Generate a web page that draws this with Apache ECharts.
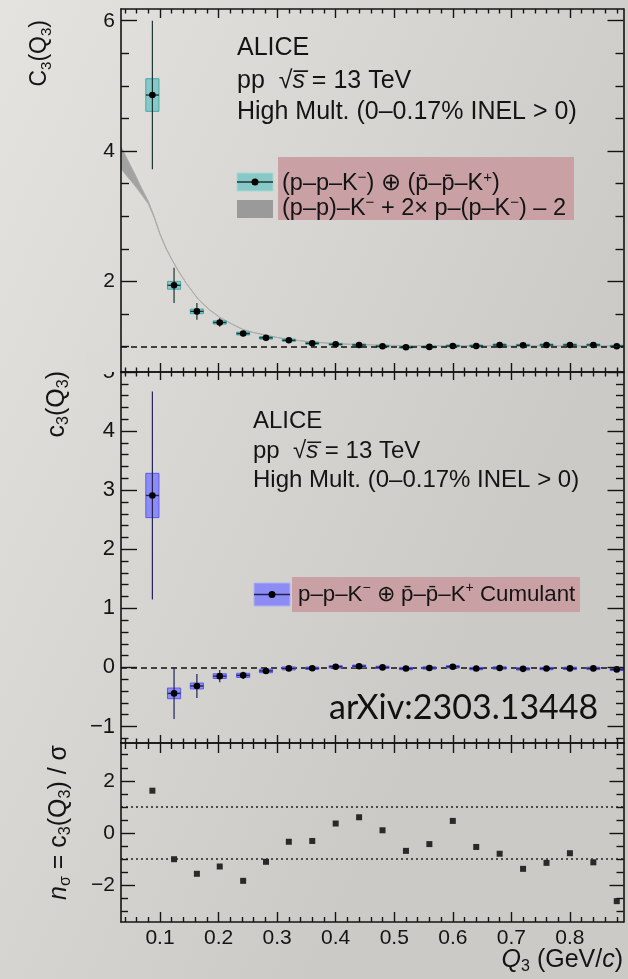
<!DOCTYPE html>
<html><head><meta charset="utf-8">
<script src="https://cdn.jsdelivr.net/npm/echarts/dist/echarts.min.js"></script>
<style>html,body{margin:0;padding:0;background:#d8d6d2;} #chart{width:628px;height:979px;}</style>
</head><body><div id="chart"></div><script>
// ---------------- data ----------------
const qVals   = [0.087, 0.124, 0.163, 0.202, 0.242, 0.281, 0.320, 0.360, 0.400, 0.440, 0.480, 0.520, 0.560, 0.600, 0.640, 0.680, 0.720, 0.760, 0.800, 0.840, 0.880];
// C3(Q3): (p-p-K-) + (pbar-pbar-K+)
const c3Val   = [4.86, 1.94, 1.54, 1.37, 1.20, 1.134, 1.097, 1.05, 1.035, 1.025, 1.005, 0.99, 0.995, 1.01, 1.01, 1.025, 1.02, 1.025, 1.025, 1.025, 1.005];
const c3Stat  = [1.14, 0.27, 0.13, 0.065, 0.04, 0.03, 0.022, 0.018, 0.015, 0.013, 0.012, 0.012, 0.012, 0.012, 0.012, 0.012, 0.012, 0.012, 0.012, 0.012, 0.012];
const c3Sys   = [0.25, 0.06, 0.035, 0.025, 0.022, 0.02, 0.018, 0.016, 0.015, 0.015, 0.015, 0.015, 0.015, 0.015, 0.015, 0.015, 0.015, 0.015, 0.015, 0.015, 0.015];
// lower-order contributions band: (p-p)-K- + 2x p-(p-K-) - 2
const bandQ    = [0.0334, 0.045, 0.057, 0.068, 0.080, 0.090, 0.100, 0.110, 0.120, 0.130, 0.145, 0.165, 0.185, 0.202, 0.222, 0.242, 0.260, 0.281, 0.300, 0.320, 0.340, 0.360, 0.400, 0.440, 0.480, 0.520, 0.600, 0.700, 0.800, 0.8915];
const bandLow  = [3.73, 3.60, 3.47, 3.34, 3.19, 2.98, 2.72, 2.51, 2.34, 2.18, 1.97, 1.73, 1.56, 1.45, 1.35, 1.26, 1.215, 1.175, 1.14, 1.11, 1.09, 1.07, 1.045, 1.03, 1.02, 1.015, 1.012, 1.012, 1.012, 1.012];
const bandHigh = [4.07, 3.86, 3.65, 3.44, 3.23, 3.00, 2.73, 2.515, 2.34, 2.18, 1.97, 1.73, 1.56, 1.45, 1.35, 1.26, 1.215, 1.175, 1.14, 1.11, 1.09, 1.07, 1.045, 1.03, 1.02, 1.015, 1.012, 1.012, 1.012, 1.012];
// c3(Q3) cumulant
const cumVal  = [2.91, -0.44, -0.315, -0.148, -0.135, -0.06, -0.017, -0.015, 0.01, 0.02, 0.0, -0.02, -0.01, 0.01, -0.02, -0.01, -0.025, -0.02, -0.017, -0.017, -0.034];
const cumStat = [1.76, 0.435, 0.205, 0.105, 0.06, 0.04, 0.03, 0.025, 0.02, 0.02, 0.02, 0.02, 0.02, 0.02, 0.02, 0.02, 0.02, 0.02, 0.02, 0.02, 0.02];
const cumSys  = [0.375, 0.09, 0.05, 0.04, 0.035, 0.03, 0.025, 0.02, 0.02, 0.02, 0.02, 0.02, 0.02, 0.02, 0.02, 0.02, 0.02, 0.02, 0.02, 0.02, 0.02];
// n_sigma = c3 / sigma
const nSigma  = [1.62, -1.01, -1.57, -1.29, -1.84, -1.11, -0.34, -0.31, 0.36, 0.60, 0.10, -0.69, -0.43, 0.46, -0.54, -0.80, -1.38, -1.15, -0.78, -1.13, -2.62];

// ticks / labels
const xMajorTicks = [0.1, 0.2, 0.3, 0.4, 0.5, 0.6, 0.7, 0.8];
const xMinorTicks = [0.04, 0.06, 0.08, 0.12, 0.14, 0.16, 0.18, 0.22, 0.24, 0.26, 0.28, 0.32, 0.34, 0.36, 0.38, 0.42, 0.44, 0.46, 0.48, 0.52, 0.54, 0.56, 0.58, 0.62, 0.64, 0.66, 0.68, 0.72, 0.74, 0.76, 0.78, 0.82, 0.84, 0.86, 0.88];
const topYMajor = [2, 4, 6];
const topYMinor = [1, 1.5, 2.5, 3, 3.5, 4.5, 5, 5.5];
const midYMajor = [-1, 0, 1, 2, 3, 4, 5];
const midYMinor = [-1.2, -0.8, -0.6, -0.4, -0.2, 0.2, 0.4, 0.6, 0.8, 1.2, 1.4, 1.6, 1.8, 2.2, 2.4, 2.6, 2.8, 3.2, 3.4, 3.6, 3.8, 4.2, 4.4, 4.6, 4.8];
const botYMajor = [-2, 0, 2];
const botYMinor = [-3, -2.5, -1.5, -1, -0.5, 0.5, 1, 1.5, 2.5, 3];

// ---------------- styling ----------------
const X_MIN = 0.0334, X_MAX = 0.8915;
const BOX_HALF = 0.0112;
const FONT = "'Liberation Sans', Arial, Helvetica, sans-serif";
const INK = '#141414';
const FRAME_W = 1.6, TICK_W = 1.4;

function fmtMinus(v) { return v < 0 ? '\u2212' + (-v) : String(v); }

function xAxisSet(g, o) {
  const base = { type: 'value', gridIndex: g, min: X_MIN, max: X_MAX, splitLine: { show: false }, z: 5 };
  const line = { show: true, onZero: false, lineStyle: { color: INK, width: FRAME_W } };
  const tick = (len, vals) => ({ show: true, inside: true, length: len, customValues: vals, lineStyle: { color: INK, width: TICK_W } });
  return [
    Object.assign({}, base, { position: 'bottom', axisLine: line, axisTick: tick(o.bMaj, xMajorTicks),
      axisLabel: o.labels ? { show: true, customValues: xMajorTicks, margin: 6, fontSize: 21, fontFamily: FONT, color: INK } : { show: false } }),
    Object.assign({}, base, { position: 'bottom', axisLine: { show: false, onZero: false }, axisTick: tick(o.bMin, xMinorTicks), axisLabel: { show: false } }),
    Object.assign({}, base, { position: 'top', axisLine: line, axisTick: tick(o.tMaj, xMajorTicks), axisLabel: { show: false } }),
    Object.assign({}, base, { position: 'top', axisLine: { show: false, onZero: false }, axisTick: tick(o.tMin, xMinorTicks), axisLabel: { show: false } })
  ];
}
function yAxisSet(g, o) {
  const base = { type: 'value', gridIndex: g, min: o.min, max: o.max, splitLine: { show: false }, z: 5 };
  const line = { show: true, onZero: false, lineStyle: { color: INK, width: FRAME_W } };
  const tick = (len, vals) => ({ show: true, inside: true, length: len, customValues: vals, lineStyle: { color: INK, width: TICK_W } });
  return [
    Object.assign({}, base, { position: 'left', axisLine: line, axisTick: tick(o.maj, o.major),
      axisLabel: { show: true, customValues: o.labels, margin: 6, fontSize: o.fs, fontFamily: FONT, color: INK, formatter: fmtMinus } }),
    Object.assign({}, base, { position: 'left', axisLine: { show: false, onZero: false }, axisTick: tick(o.mnr, o.minor), axisLabel: { show: false } }),
    Object.assign({}, base, { position: 'right', axisLine: line, axisTick: tick(o.maj, o.major), axisLabel: { show: false } }),
    Object.assign({}, base, { position: 'right', axisLine: { show: false, onZero: false }, axisTick: tick(o.mnr, o.minor), axisLabel: { show: false } })
  ];
}

function makeErrRender(st) {
  return function (params, api) {
    const x = api.value(0), y = api.value(1), es = api.value(2), ey = api.value(3);
    const c = api.coord([x, y]);
    const tl = api.coord([x - BOX_HALF, y + ey]);
    const br = api.coord([x + BOX_HALF, y - ey]);
    const eT = api.coord([x, y + es]);
    const eB = api.coord([x, y - es]);
    return { type: 'group', children: [
      { type: 'rect', shape: { x: tl[0], y: tl[1], width: br[0] - tl[0], height: br[1] - tl[1] }, style: { fill: st.fill, stroke: st.stroke, lineWidth: 1 } },
      { type: 'line', shape: { x1: eT[0], y1: eT[1], x2: eB[0], y2: eB[1] }, style: { stroke: st.bar, lineWidth: 1.2 } },
      { type: 'line', shape: { x1: tl[0], y1: c[1], x2: br[0], y2: c[1] }, style: { stroke: st.bar, lineWidth: 1.4 } },
      { type: 'circle', shape: { cx: c[0], cy: c[1], r: 3.3 }, style: { fill: '#000' } }
    ]};
  };
}

const TEAL = { fill: '#88c8c6', stroke: '#44a9a8', bar: '#1c3434' };
const BLUE = { fill: '#8c8cf4', stroke: '#5a5af0', bar: '#232358' };
const PINK = '#c9a1a5';

// rich text styles
function rich(F) {
  return {
    m: { fontSize: F, fontFamily: FONT, fill: INK, lineHeight: Math.round(F * 1.2) },
    i: { fontSize: F, fontFamily: FONT, fill: INK, fontStyle: 'italic', lineHeight: Math.round(F * 1.2) },
    sub: { fontSize: Math.round(F * 0.65), fontFamily: FONT, fill: INK, lineHeight: Math.round(F * 0.46), verticalAlign: 'bottom' },
    sup: { fontSize: Math.round(F * 0.62), fontFamily: FONT, fill: INK, lineHeight: Math.round(F * 0.62), verticalAlign: 'top' }
  };
}
function txt(x, y, text, F, extra) {
  return Object.assign({ type: 'text', x: x, y: y, z: 50,
    style: { text: text, rich: rich(F), fontSize: F, fontFamily: FONT, fill: INK, align: 'left', textAlign: 'left', verticalAlign: 'middle', textVerticalAlign: 'middle' } }, extra || {});
}
function vtxt(x, y, text, F) {
  return { type: 'text', x: x, y: y, rotation: Math.PI / 2, z: 50,
    style: { text: text, rich: rich(F), fontSize: F, fontFamily: FONT, fill: INK, align: 'right', textAlign: 'right', verticalAlign: 'middle', textVerticalAlign: 'middle' } };
}

const PB = 'p\u0304';
const graphics = [
  // cover for the clipped "5" label of the middle pad
  { type: 'rect', z: 40, shape: { x: 86, y: 352, width: 33, height: 20 }, style: { fill: '#dcdad6' } },
  // top pad texts
  txt(237, 48, '{m|ALICE}', 25),
  txt(237, 81, '{m|pp  \u221A}{i|s\u0305}{m| = 13 TeV}', 25),
  txt(237, 112, '{m|High Mult. (0\u20130.17% INEL > 0)}', 25),
  // top legend
  { type: 'rect', z: 20, shape: { x: 278, y: 157, width: 296, height: 63 }, style: { fill: PINK } },
  { type: 'rect', z: 20, shape: { x: 237, y: 173, width: 36, height: 18 }, style: { fill: TEAL.fill, stroke: '#a8d8d6', lineWidth: 1 } },
  { type: 'line', z: 21, shape: { x1: 237, y1: 182, x2: 273, y2: 182 }, style: { stroke: TEAL.bar, lineWidth: 1.5 } },
  { type: 'circle', z: 22, shape: { cx: 255, cy: 182, r: 3.5 }, style: { fill: '#000' } },
  { type: 'rect', z: 20, shape: { x: 237, y: 200, width: 36, height: 18 }, style: { fill: '#9a9a9a' } },
  txt(282, 184, '{m|(p\u2013p\u2013K}{sup|\u2212}{m|) \u2295 (' + PB + '\u2013' + PB + '\u2013K}{sup|+}{m|)}', 23.5),
  txt(282, 209, '{m|(p\u2013p)\u2013K}{sup|\u2212}{m| + 2\u00D7 p\u2013(p\u2013K}{sup|\u2212}{m|) \u2013 2}', 23.5),
  // middle pad texts
  txt(253, 421, '{m|ALICE}', 24),
  txt(253, 451, '{m|pp  \u221A}{i|s\u0305}{m| = 13 TeV}', 24),
  txt(253, 480, '{m|High Mult. (0\u20130.17% INEL > 0)}', 24),
  // middle legend
  { type: 'rect', z: 20, shape: { x: 292, y: 577, width: 288, height: 35 }, style: { fill: PINK } },
  { type: 'rect', z: 20, shape: { x: 254, y: 583, width: 36, height: 23 }, style: { fill: BLUE.fill, stroke: '#b0b0f8', lineWidth: 1 } },
  { type: 'line', z: 21, shape: { x1: 254, y1: 594.5, x2: 290, y2: 594.5 }, style: { stroke: BLUE.bar, lineWidth: 1.5 } },
  { type: 'circle', z: 22, shape: { cx: 272, cy: 594.5, r: 3.5 }, style: { fill: '#000' } },
  txt(298, 595, '{m|p\u2013p\u2013K}{sup|\u2212}{m| \u2295 ' + PB + '\u2013' + PB + '\u2013K}{sup|+}{m| Cumulant}', 22.3),
  // arXiv stamp
  { type: 'text', x: 329, y: 708, z: 50, style: { text: 'arXiv:2303.13448', fontSize: 34, fontFamily: "Lato, 'Open Sans', sans-serif", fill: '#111', align: 'left', textAlign: 'left', verticalAlign: 'middle', textVerticalAlign: 'middle' } },
  // axis titles
  vtxt(40, 20, '{m|C}{sub|3}{m|(Q}{sub|3}{m|)}', 23),
  vtxt(57, 371, '{m|c}{sub|3}{m|(Q}{sub|3}{m|)}', 25),
  vtxt(59, 745, '{i|n}{sub|\u03C3}{m| = c}{sub|3}{m|(Q}{sub|3}{m|) / \u03C3}', 25),
  { type: 'text', x: 623, y: 960, z: 50, style: { text: '{i|Q}{sub|3}{m| (GeV/}{i|c}{m|)}', rich: rich(25), fontSize: 25, fontFamily: FONT, fill: INK, align: 'right', textAlign: 'right', verticalAlign: 'middle', textVerticalAlign: 'middle' } }
];

const chart = echarts.init(document.getElementById('chart'), null, { renderer: 'canvas', width: 628, height: 979 });
const option = {
  animation: false,
  backgroundColor: { type: 'linear', x: 0, y: 0, x2: 1, y2: 0.3, colorStops: [{ offset: 0, color: '#e4e3df' }, { offset: 1, color: '#cccac6' }] },
  grid: [
    { left: 121, top: 9, width: 502.5, height: 363 },
    { left: 121, top: 372, width: 502.5, height: 371 },
    { left: 121, top: 743, width: 502.5, height: 179 }
  ],
  xAxis: [].concat(
    xAxisSet(0, { labels: false, bMaj: 9, bMin: 4.5, tMaj: 9, tMin: 4.5 }),
    xAxisSet(1, { labels: false, bMaj: 8, bMin: 4.5, tMaj: 8, tMin: 4.5 }),
    xAxisSet(2, { labels: true, bMaj: 10, bMin: 5, tMaj: 10, tMin: 6 })
  ),
  yAxis: [].concat(
    yAxisSet(0, { min: 0.61, max: 6.18, major: topYMajor, minor: topYMinor, labels: topYMajor, maj: 16, mnr: 8, fs: 21 }),
    yAxisSet(1, { min: -1.28, max: 5.0, major: midYMajor, minor: midYMinor, labels: midYMajor, maj: 16, mnr: 7.5, fs: 22 }),
    yAxisSet(2, { min: -3.42, max: 3.45, major: botYMajor, minor: botYMinor, labels: botYMajor, maj: 14, mnr: 7, fs: 21 })
  ),
  graphic: { elements: graphics },
  series: [
    {
      type: 'custom', name: 'band', xAxisIndex: 0, yAxisIndex: 0, z: 2, clip: true,
      data: bandQ.map((q, i) => [q, bandLow[i], bandHigh[i]]),
      encode: { x: 0, y: [1, 2] },
      renderItem: function (params, api) {
        if (params.dataIndex !== 0) return null;
        const pts = [];
        for (let i = 0; i < bandQ.length; i++) pts.push(api.coord([bandQ[i], bandHigh[i]]));
        for (let i = bandQ.length - 1; i >= 0; i--) pts.push(api.coord([bandQ[i], bandLow[i]]));
        return { type: 'polygon', shape: { points: pts }, style: { fill: '#a2a2a2', stroke: '#acacac', lineWidth: 1 } };
      },
      markLine: { silent: true, symbol: ['none', 'none'], label: { show: false }, animation: false,
        lineStyle: { color: '#111', type: [6, 4], width: 1.5 }, data: [{ yAxis: 1 }] }
    },
    {
      type: 'custom', name: 'C3', xAxisIndex: 0, yAxisIndex: 0, z: 4,
      data: qVals.map((q, i) => [q, c3Val[i], c3Stat[i], c3Sys[i]]),
      encode: { x: 0, y: 1 },
      renderItem: makeErrRender(TEAL)
    },
    {
      type: 'custom', name: 'c3', xAxisIndex: 4, yAxisIndex: 4, z: 4,
      data: qVals.map((q, i) => [q, cumVal[i], cumStat[i], cumSys[i]]),
      encode: { x: 0, y: 1 },
      renderItem: makeErrRender(BLUE),
      markLine: { silent: true, symbol: ['none', 'none'], label: { show: false }, animation: false, z: 1,
        lineStyle: { color: '#111', type: [6, 4], width: 1.5 }, data: [{ yAxis: 0 }] }
    },
    {
      type: 'scatter', name: 'nsigma', xAxisIndex: 8, yAxisIndex: 8, z: 4,
      symbol: 'rect', symbolSize: 6, itemStyle: { color: '#000' },
      data: qVals.map((q, i) => [q, nSigma[i]]),
      markLine: { silent: true, symbol: ['none', 'none'], label: { show: false }, animation: false,
        lineStyle: { color: '#222', type: [2, 3], width: 1.5 }, data: [{ yAxis: 1 }, { yAxis: -1 }] }
    }
  ]
};
chart.setOption(option);
</script></body></html>
